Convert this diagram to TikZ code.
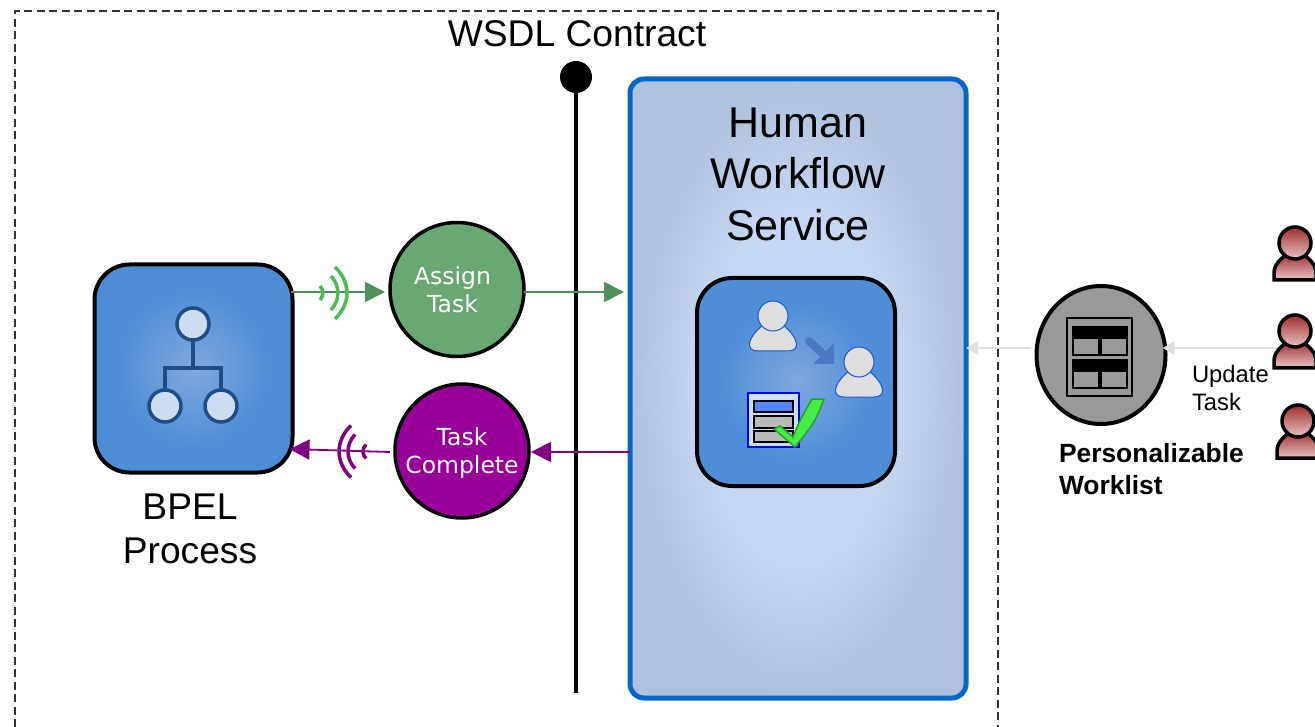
\documentclass[tikz,border=0pt]{standalone}
\usepackage{fontspec}
\setmainfont{Liberation Sans}
\newfontfamily\verdanafont{DejaVu Sans}
\usetikzlibrary{calc,arrows.meta,shapes.geometric}
\definecolor{tileblue}{HTML}{4F8DD6}
\definecolor{tilelight}{HTML}{7FA9DF}
\definecolor{servicelight}{HTML}{C6D7F3}
\definecolor{serviceedge}{HTML}{AFC2DD}
\definecolor{serviceline}{HTML}{0766CC}
\definecolor{assigngreen}{HTML}{6AA873}
\definecolor{arrowgreen}{HTML}{4F9158}
\definecolor{signalgreen}{HTML}{4CBB55}
\definecolor{completepurple}{HTML}{990099}
\definecolor{arrowpurple}{HTML}{800080}
\definecolor{chartblue}{HTML}{1F4E86}
\definecolor{chartfill}{HTML}{CCDDF2}
\definecolor{glyphblue}{HTML}{2255CC}
\definecolor{glypharrow}{HTML}{4A78C2}
\definecolor{formrowblue}{HTML}{5588FF}
\definecolor{formback}{HTML}{CCDDFF}
\definecolor{checkfill}{HTML}{44EE44}
\definecolor{checkline}{HTML}{2E9E2E}
\definecolor{workerred}{HTML}{A02C2C}
\definecolor{workerpale}{HTML}{E8C4C4}
\pgfdeclareradialshading{tileshade}{\pgfpoint{0bp}{0bp}}{color(0bp)=(tilelight); color(19bp)=(tileblue); color(50bp)=(tileblue)}
\pgfdeclareradialshading{serviceshade}{\pgfpoint{0bp}{0bp}}{color(0bp)=(servicelight); color(14bp)=(servicelight); color(25bp)=(serviceedge); color(50bp)=(serviceedge)}
\pgfkeys{
  /custom/.cd,
  position/.initial={0,0},
  style/.initial={},
  flip/.initial=1
}
\newcommand{\usernode}[1][]{
    {
        \pgfkeys{/custom/.cd,#1}
        \pgfkeys{/custom/position/.get=\usernodeposition}
        \pgfkeys{/custom/style/.get=\usernodestyle}
        \draw[\usernodestyle] ($ (\usernodeposition) + (-15,35) $) .. controls ($ (\usernodeposition) + (-28,35) $) and ($ (\usernodeposition) + (-26,22) $) .. ($ (\usernodeposition) + (-10,9) $) -- ($ (\usernodeposition) + (10,9) $) .. controls ($ (\usernodeposition) + (26,22) $) and ($ (\usernodeposition) + (28,35) $) .. ($ (\usernodeposition) + (15,35) $) -- cycle;
        \draw[\usernodestyle] (\usernodeposition) circle (15);
    }
}
\newcommand{\workernode}[1][]{
    {
        \pgfkeys{/custom/.cd,#1}
        \pgfkeys{/custom/position/.get=\workernodeposition}
        \draw[worker] ($ (\workernodeposition) + (-21,37) $) -- ($ (\workernodeposition) + (-21,30) $) .. controls ($ (\workernodeposition) + (-21,20) $) and ($ (\workernodeposition) + (-12,15) $) .. ($ (\workernodeposition) + (-8,10) $) -- ($ (\workernodeposition) + (8,10) $) .. controls ($ (\workernodeposition) + (12,15) $) and ($ (\workernodeposition) + (21,20) $) .. ($ (\workernodeposition) + (21,30) $) -- ($ (\workernodeposition) + (21,37) $) -- cycle;
        \draw[worker] (\workernodeposition) circle (16);
    }
}
\newcommand{\signalnode}[1][]{
    {
        \pgfkeys{/custom/.cd,#1}
        \pgfkeys{/custom/position/.get=\signalnodeposition}
        \pgfkeys{/custom/style/.get=\signalnodestyle}
        \pgfkeys{/custom/flip/.get=\signalnodeflip}
        \foreach \apex/\half/\sag in {0/26/12,-9/17/7,-24/7/3} {
            \draw[\signalnodestyle] ($ (\signalnodeposition) + ({\signalnodeflip*(\apex-\sag)},-\half) $) .. controls ($ (\signalnodeposition) + ({\signalnodeflip*(\apex+\sag*0.33)},{-\half*0.4}) $) and ($ (\signalnodeposition) + ({\signalnodeflip*(\apex+\sag*0.33)},{\half*0.4}) $) .. ($ (\signalnodeposition) + ({\signalnodeflip*(\apex-\sag)},\half) $);
        }
    }
}
\begin{document}
\begin{tikzpicture}[x=1pt,y=-1pt,
    tile/.style={draw=black,line width=4pt,rounded corners=35pt,shading=tileshade,minimum width=198pt,minimum height=208pt,inner sep=0pt,outer sep=0pt},
    taskdisc/.style={draw=black,line width=3.5pt,circle,minimum size=134pt,inner sep=0pt,outer sep=0pt},
    tasklabel/.style={inner sep=0pt,outer sep=0pt,text=white,align=center,font=\verdanafont\fontsize{23.5}{28}\selectfont},
    caption/.style={inner sep=0pt,outer sep=0pt,align=center,font=\fontsize{37.2}{44}\selectfont},
    greenflow/.style={draw=arrowgreen,line width=1.8pt,-{Triangle[length=20pt,width=20pt]}},
    purpleflow/.style={draw=arrowpurple,line width=1.8pt,-{Triangle[length=20pt,width=20pt]}},
    greyflow/.style={draw=black!12,line width=2.5pt,-{Triangle[length=12pt,width=13pt]}},
    greensignal/.style={draw=signalgreen,line width=3.5pt},
    purplesignal/.style={draw=arrowpurple,line width=3.5pt},
    chartnode/.style={draw=chartblue,fill=chartfill,line width=3.5pt,circle,minimum size=32pt,inner sep=0pt,outer sep=0pt},
    worker/.style={draw=black,line width=3.5pt,top color=workerred,bottom color=workerpale},
    glyphuser/.style={draw=glyphblue,line width=1pt,fill=black!13},
    formrow/.style={draw=black,line width=1.5pt,fill=black!27}]
    \useasboundingbox (0,0) rectangle (1315,727);

    \draw[black!80,line width=2pt,dash pattern=on 8pt off 4.5pt] (15,727) -- (15,11) -- (998,11) -- (998,727);
    \node[caption] (wsdl) at (577,34) {WSDL Contract};

    \node[draw=serviceline,line width=5pt,rounded corners=14pt,shading=serviceshade,minimum width=336pt,minimum height=619pt,inner sep=0pt,outer sep=0pt] (service) at (798,388.5) {};
    \node[caption,font=\fontsize{43}{51.5}\selectfont] (servicelabel) at (798,174) {Human\\Workflow\\Service};

    \node[circle,fill=black,minimum size=32pt,inner sep=0pt,outer sep=0pt] (contract) at (576,77) {};
    \coordinate (contractend) at (576,693);
    \draw[line width=4pt] (contract) -- (contractend);

    \node[tile] (bpel) at (193.5,368.5) {};
    \node[caption] (bpellabel) at (190,529) {BPEL\\Process};
    \node[chartnode] (chartroot) at (193,324) {};
    \node[chartnode] (chartleft) at (165,406) {};
    \node[chartnode] (chartright) at (221,406) {};
    \draw[chartblue,line width=3.5pt] (chartroot) -- ($ (chartroot) + (0,44) $);
    \draw[chartblue,line width=3.5pt] (chartleft) -- ($ (chartleft) + (0,-38) $) -- ($ (chartright) + (0,-38) $) -- (chartright);

    \node[taskdisc,fill=assigngreen] (assign) at (457,289.5) {};
    \node[tasklabel] (assignlabel) at (452.5,290) {Assign\\Task};
    \node[taskdisc,fill=completepurple] (complete) at (462,451) {};
    \node[tasklabel] (completelabel) at (462,453.5) {Task\\Complete};

    \node[tile] (flowtile) at (796,382) {};
    \usernode[position={773,316},style=glyphuser]
    \usernode[position={859,362},style=glyphuser]
    \fill[glypharrow] (834,343) -- (834,364) -- (813,364) -- cycle;
    \draw[glypharrow,line width=8pt,line cap=round] (809,341) -- (825,356);
    \draw[draw=blue,fill=formback,line width=2pt] (748,393) rectangle (799,447);
    \draw[formrow,fill=formrowblue] (754,401) rectangle (793,412);
    \draw[formrow] (754,416) rectangle (793,428);
    \draw[formrow] (754,431) rectangle (793,442);
    \draw[draw=checkline,fill=checkfill,line width=1.5pt] (774,429) -- (780,426) -- (793,437) .. controls (800,420) .. (812,399) -- (824,399) .. controls (815,422) .. (795,447) -- cycle;

    \node[draw=black,fill=black!40,line width=4pt,ellipse,minimum width=129pt,minimum height=138pt,inner sep=0pt,outer sep=0pt] (worklist) at (1101,355) {};
    \draw[line width=2pt] (1067,318) rectangle (1132,396);
    \foreach \cellx in {1073,1101} {
        \foreach \celly in {327,360} {
            \draw[line width=2.5pt] (\cellx,\celly) rectangle ++(26,28);
            \fill (\cellx,\celly) rectangle ++(26,12);
        }
    }
    \node[inner sep=0pt,outer sep=0pt,align=left,anchor=north west,font=\bfseries\fontsize{26.4}{32}\selectfont] (worklistlabel) at (1059,443) {Personalizable\\Worklist};
    \node[inner sep=0pt,outer sep=0pt,align=left,anchor=north west,font=\fontsize{23.8}{28}\selectfont] (updatelabel) at (1192,365) {Update\\Task};

    \coordinate (workerone) at (1295,243);
    \coordinate (workertwo) at (1295,331);
    \coordinate (workerthree) at (1298,421);
    \draw[greyflow] ($ (workertwo) + (-15,17) $) -- ($ (worklist.east) + (-3,-7) $);
    \draw[greyflow] ($ (worklist.west) + (-6,-7) $) -- ($ (service.east) + (0,-40.5) $);
    \foreach \i in {one,two,three} {
        \workernode[position={worker\i}]
    }

    \draw[greenflow] ($ (bpel.east) + (-2,-76.5) $) -- ($ (assign.west) + (-5,2.5) $);
    \draw[greenflow] ($ (assign.east) + (0,2.5) $) -- ($ (service.west) + (-6,-96.5) $);
    \draw[purpleflow] ($ (service.west) + (0,63.5) $) -- ($ (complete.east) + (2,1) $);
    \draw[purpleflow] ($ (complete.west) + (-5,1) $) -- ($ (bpel.east) + (-3,80.5) $);
    \signalnode[position={347,293},style=greensignal,flip=1]
    \signalnode[position={339,451.5},style=purplesignal,flip=-1]
\end{tikzpicture}
\end{document}
